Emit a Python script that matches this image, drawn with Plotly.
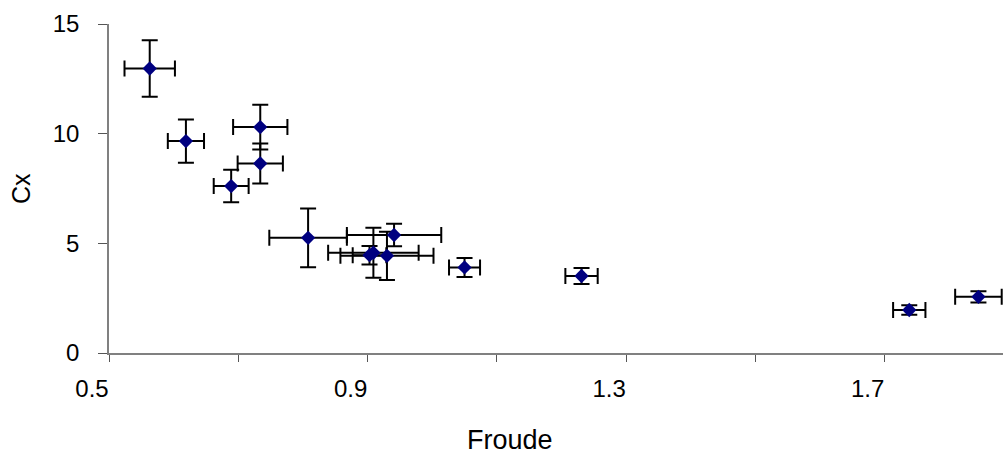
import plotly.graph_objects as go

froude = [0.563, 0.619, 0.689, 0.734, 0.734, 0.808, 0.903, 0.909, 0.930, 0.941, 1.050, 1.231, 1.738, 1.845]
cx = [12.97, 9.66, 7.61, 10.30, 8.64, 5.25, 4.46, 4.57, 4.43, 5.38, 3.90, 3.51, 1.96, 2.56]
froude_err = [0.039, 0.028, 0.027, 0.042, 0.035, 0.060, 0.026, 0.070, 0.072, 0.073, 0.024, 0.025, 0.025, 0.036]
cx_err = [1.29, 0.99, 0.74, 1.02, 0.91, 1.34, 0.42, 1.14, 1.10, 0.51, 0.43, 0.36, 0.22, 0.26]

x_ticks = [0.5, 0.9, 1.3, 1.7]
y_ticks = [0, 5, 10, 15]

FONT = "Liberation Sans, Arial, sans-serif"

fig = go.Figure()
fig.add_trace(go.Scatter(
    x=froude, y=cx, mode="markers",
    marker=dict(symbol="diamond", size=11, color="#000080"),
    error_x=dict(type="data", array=froude_err, visible=True, color="black", thickness=2, width=8),
    error_y=dict(type="data", array=cx_err, visible=True, color="black", thickness=2, width=8),
    showlegend=False,
))

fig.update_layout(
    width=1003, height=459,
    margin=dict(l=109, r=0, t=24, b=106),
    paper_bgcolor="white", plot_bgcolor="white",
    font=dict(family=FONT, size=24, color="black"),
    xaxis=dict(
        range=[0.5, 1.883], tickvals=x_ticks, ticktext=[str(v) for v in x_ticks],
        automargin=False,
        showgrid=False, zeroline=False, showline=True, linecolor="#808080", linewidth=1.5,
        ticks="outside", ticklen=7, tickcolor="#555555", tickwidth=1,
        minor=dict(dtick=0.2, tick0=0.5, ticks="outside", ticklen=7, tickcolor="#555555", showgrid=False),
        tickfont=dict(size=24), ticklabelshift=-17, ticklabelstandoff=6,
    ),
    yaxis=dict(
        range=[0, 15], tickvals=y_ticks,
        automargin=False,
        showgrid=False, zeroline=False, showline=True, linecolor="#808080", linewidth=1.5,
        ticks="outside", ticklen=9, tickcolor="#555555", tickwidth=1,
        tickfont=dict(size=24), ticklabelstandoff=14,
    ),
    annotations=[
        dict(text="Froude", xref="paper", yref="paper", x=(510 - 109) / 894, y=-0.265,
             xanchor="center", yanchor="middle", showarrow=False, font=dict(size=27)),
        dict(text="Cx", xref="paper", yref="paper", x=-0.099, y=0.5, textangle=-90,
             xanchor="center", yanchor="middle", showarrow=False, font=dict(size=25)),
    ],
)

fig.write_html(
    "out.html",
    config={"displayModeBar": False},
    post_script="document.body.style.margin='0';document.body.style.overflow='hidden';",
)
